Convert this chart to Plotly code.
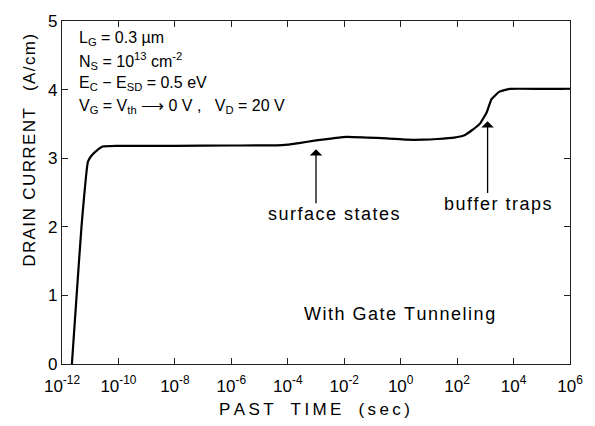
import plotly.graph_objects as go

# Data (time in seconds, drain current in A/cm)
past_time = [2.24e-12, 3.3e-12, 4.9e-12, 8.3e-12, 1.12e-11, 1.7e-11, 2.75e-11,
             1e-10, 1e-8, 1e-6, 6.3e-5, 2.5e-4, 1e-3, 4e-3, 1.26e-2, 6.3e-2,
             3.2e-1, 1.6, 6.3, 20, 79, 174, 316, 631, 1122, 1660, 3162, 7244,
             1e5, 1e6]
drain_current = [0.0, 1.0, 2.0, 2.95, 3.04, 3.11, 3.17,
                 3.18, 3.18, 3.185, 3.19, 3.22, 3.26, 3.29, 3.31, 3.30,
                 3.29, 3.27, 3.27, 3.28, 3.30, 3.33, 3.40, 3.50, 3.67, 3.86, 3.97, 4.01,
                 4.01, 4.01]

x_tickvals = [1e-12, 1e-10, 1e-8, 1e-6, 1e-4, 1e-2, 1e0, 1e2, 1e4, 1e6]
x_ticktext = ["10<sup>-12</sup>", "10<sup>-10</sup>", "10<sup>-8</sup>", "10<sup>-6</sup>",
              "10<sup>-4</sup>", "10<sup>-2</sup>", "10<sup>0</sup>", "10<sup>2</sup>",
              "10<sup>4</sup>", "10<sup>6</sup>"]
y_tickvals = [0, 1, 2, 3, 4, 5]
y_ticktext = ["0", "1", "2", "3", "4", "5"]

param_lines = ["L<sub>G</sub> = 0.3 µm",
               "N<sub>S</sub> = 10<sup>13</sup> cm<sup>-2</sup>",
               "E<sub>C</sub> − E<sub>SD</sub> = 0.5 eV",
               "V<sub>G</sub> = V<sub>th</sub> ⟶ 0 V ,   V<sub>D</sub> = 20 V"]

FONT = "Liberation Sans, Arial, sans-serif"

fig = go.Figure()
fig.add_trace(go.Scatter(x=past_time, y=drain_current, mode="lines",
                         line=dict(color="black", width=2.2, shape="spline", smoothing=0.4),
                         showlegend=False, hoverinfo="skip"))

axis_common = dict(showgrid=False, zeroline=False, showline=True, linecolor="#222",
                   linewidth=1.3, mirror="ticks", ticks="inside", ticklen=6,
                   tickwidth=1.2, tickcolor="#222", ticklabeloverflow="allow")

fig.update_xaxes(type="log", range=[-12, 6], tickvals=x_tickvals, ticktext=x_ticktext,
                 ticklabelstandoff=6, tickfont=dict(family=FONT, size=17, color="black"),
                 **axis_common)
fig.update_yaxes(range=[0, 5.0], tickvals=y_tickvals, ticktext=y_ticktext,
                 tickfont=dict(family=FONT, size=17, color="black"), **axis_common)

def sp(s, ch="\u2009"):
    return ch.join(list(s))

annotations = []
ys = [0.949, 0.883, 0.817, 0.751]
for line, yy in zip(param_lines, ys):
    annotations.append(dict(xref="paper", yref="paper", x=0.029, y=yy, text=line,
                            showarrow=False, xanchor="left", yanchor="middle",
                            font=dict(family=FONT, size=16, color="black")))

annotations.append(dict(xref="paper", yref="paper", x=0.664, y=0.11,
                        text=sp("With Gate Tunneling", "\u200a"), showarrow=False,
                        xanchor="center", yanchor="bottom",
                        font=dict(family=FONT, size=18, color="black")))

# arrows
annotations.append(dict(x=-3.0, y=3.13, ax=-3.0, ay=2.32, xref="x", yref="y",
                        axref="x", ayref="y", text="", showarrow=True,
                        arrowhead=1, arrowsize=1.6, arrowwidth=1.3, arrowcolor="black"))
annotations.append(dict(x=3.08, y=3.54, ax=3.08, ay=2.47, xref="x", yref="y",
                        axref="x", ayref="y", text="", showarrow=True,
                        arrowhead=1, arrowsize=1.6, arrowwidth=1.3, arrowcolor="black"))
annotations.append(dict(x=-2.38, y=2.18, xref="x", yref="y",
                        text=sp("surface states", "\u200a"), xanchor="center",
                        showarrow=False, font=dict(family=FONT, size=18, color="black")))
annotations.append(dict(x=3.44, y=2.33, xref="x", yref="y",
                        text=sp("buffer traps", "\u200a"), xanchor="center",
                        showarrow=False, font=dict(family=FONT, size=18, color="black")))

# axis titles
annotations.append(dict(xref="paper", yref="paper", x=0.498, y=-0.133,
                        text=sp("PAST") + "\u2003" + sp("TIME") + "\u2003" + sp("(sec)"),
                        showarrow=False, xanchor="center", yanchor="middle",
                        font=dict(family=FONT, size=17, color="black")))
annotations.append(dict(xref="paper", yref="paper", x=-0.064, y=0.623,
                        text=sp("DRAIN", "\u200a") + "\u2002" + sp("CURRENT", "\u200a")
                        + "\u2003" + sp("(A/cm)", "\u200a"),
                        showarrow=False, textangle=-90, xanchor="center", yanchor="middle",
                        font=dict(family=FONT, size=17, color="black")))

fig.update_layout(width=595, height=426, margin=dict(l=62, r=20, t=14, b=62),
                  paper_bgcolor="white", plot_bgcolor="white",
                  annotations=annotations)

fig.write_html("out.html", config={"displayModeBar": False},
               post_script="document.body.style.margin='0';document.body.style.overflow='hidden';")
